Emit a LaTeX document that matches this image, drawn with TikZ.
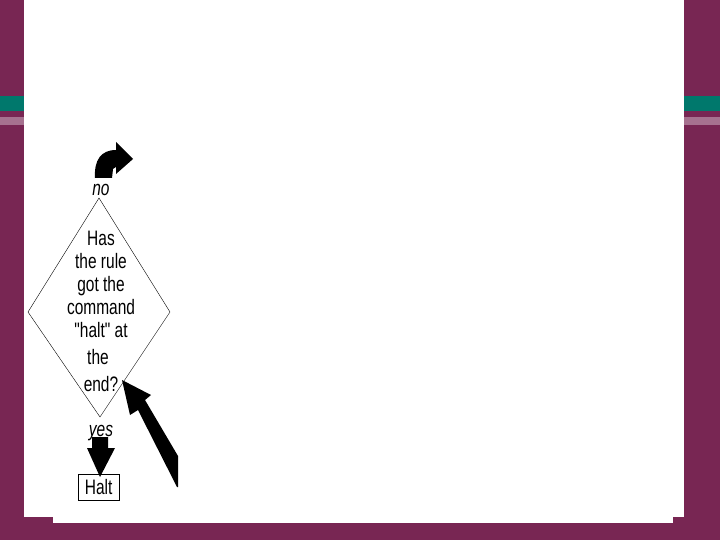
\documentclass[tikz,border=0pt]{standalone}
\usepackage{fontspec}
\setmainfont[FakeStretch=0.74, Ligatures=TeXOff]{Liberation Sans}
\usepackage{xcolor}
\definecolor{slidebg}{HTML}{782653}
\definecolor{slideteal}{HTML}{00786C}
\definecolor{slidepink}{HTML}{A6718F}
\def\slidefont{\fontsize{21}{23}\selectfont}

\begin{document}
\begin{tikzpicture}[x=1bp, y=-1bp, every node/.style={inner sep=0pt, font=\slidefont}]
	\useasboundingbox (0,0) rectangle (720,540);
	\fill[slidebg] (0,0) rectangle (720,540);
	\fill[slideteal] (0,96) rectangle (720,111);
	\fill[slidepink] (0,117) rectangle (720,125);
	\fill[white] (24,0) rectangle (684,517);
	\fill[white] (53,517) rectangle (673,523);
	\coordinate (top) at (99,198);
	\coordinate (right) at (170,312);
	\coordinate (bottom) at (100,417);
	\coordinate (left) at (28,312);
	\draw[thin] (top) -- (right) -- (bottom) -- (left) -- cycle;
	\node[anchor=north, align=center] (rule) at (101,231) {Has\\ the rule\\ got the\\ command\\ "halt" at\\[4bp] \hspace*{-6bp}the\\[4bp] end?};
	\node[anchor=base] (no) at (101,196) {\itshape no};
	\node[anchor=base] (yes) at (101,436) {\itshape yes};
	\node[anchor=north west, draw, thin, minimum width=41bp, minimum height=26bp] (halt) at (78,474) {Halt};
	\fill (95,178) .. controls (94,160) and (101,150) .. (116,150) -- (116,142) -- (133,159) -- (116,174) -- (116,167) -- (113,169) -- (112,178) -- cycle;
	\fill (92,437) -- (108,437) -- (108,448) -- (115,448) -- (100,477) -- (87,448) -- (92,448) -- cycle;
	\fill (122,380) -- (151,395) -- (145,400) -- (178,456) -- (178,487) -- (177,487) -- (138,410) -- (130,415) -- cycle;
\end{tikzpicture}
\end{document}
